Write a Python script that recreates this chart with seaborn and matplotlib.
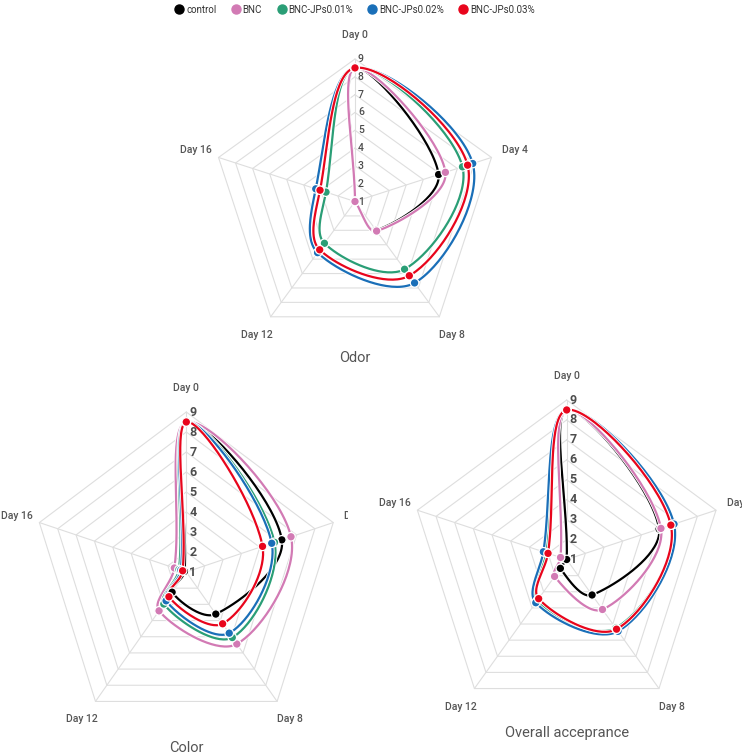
import numpy as np
import pandas as pd
import matplotlib
matplotlib.use("Agg")
import matplotlib.pyplot as plt
import matplotlib.patheffects as pe
from matplotlib.lines import Line2D
from matplotlib.transforms import Bbox, TransformedBbox
import seaborn as sns

sns.set_style("white")
plt.rcParams["font.family"] = ["Roboto", "DejaVu Sans"]

days = ["Day 0", "Day 4", "Day 8", "Day 12", "Day 16"]
groups = ["control", "BNC", "BNC-JPs0.01%", "BNC-JPs0.02%", "BNC-JPs0.03%"]
colors = ["#000000", "#d27ab4", "#2a9e76", "#1a6fb8", "#e8051c"]
levels = [1, 2, 3, 4, 5, 6, 7, 8, 9]

# scores per group, in the order of days
odor_scores = [
    [8.5, 5.9, 3.0, 1.0, 1.0],
    [8.5, 6.3, 3.05, 1.0, 1.0],
    [8.5, 7.3, 5.7, 3.9, 2.7],
    [8.5, 7.9, 6.65, 4.55, 3.3],
    [8.5, 7.6, 6.15, 4.35, 3.05],
]
color_scores = [
    [8.5, 6.2, 3.6, 2.25, 1.1],
    [8.5, 6.7, 5.45, 3.4, 1.65],
    [8.5, 5.8, 5.05, 2.98, 1.4],
    [8.5, 5.65, 4.78, 2.78, 1.3],
    [8.5, 5.15, 4.2, 2.53, 1.2],
]
overall_scores = [
    [8.5, 5.95, 3.2, 1.55, 1.0],
    [8.5, 6.05, 4.1, 2.05, 1.33],
    [8.5, 6.62, 5.25, 3.55, 2.1],
    [8.5, 6.75, 5.45, 3.68, 2.25],
    [8.5, 6.58, 5.32, 3.43, 2.0],
]

W, H = 742, 755
angles = np.arange(len(days)) * 2 * np.pi / len(days)


def smooth_loop(vals, smooth=0.35, n=40):
    # closed bezier smoothing of the polygon, done in cartesian space
    s = (np.asarray(vals) - 1) / 8
    pts = np.column_stack([s * np.sin(angles), s * np.cos(angles)])
    m = len(pts)
    c0, c1 = [], []
    for i in range(m):
        p, prev, nxt = pts[i], pts[i - 1], pts[(i + 1) % m]
        v = (nxt - prev) * smooth
        d0 = np.hypot(*(p - prev))
        d1 = np.hypot(*(p - nxt))
        tot = d0 + d1
        if tot:
            d0, d1 = d0 / tot, d1 / tot
        c0.append(p - v * d0)
        c1.append(p + v * d1)
    t = np.linspace(0, 1, n)[:, None]
    segs = []
    for i in range(m):
        a, b, c, d = pts[i], c1[i], c0[(i + 1) % m], pts[(i + 1) % m]
        seg = (1 - t) ** 3 * a + 3 * (1 - t) ** 2 * t * b + 3 * (1 - t) * t ** 2 * c + t ** 3 * d
        segs.append(seg)
    xy = np.vstack(segs)
    return np.arctan2(xy[:, 0], xy[:, 1]), 1 + 8 * np.hypot(xy[:, 0], xy[:, 1])


def radar(fig, cx, cy, rx, ry, scores, title, title_y, tick_size, tick_weight, clip_right=None):
    ax = fig.add_axes([(cx - rx) / W, 1 - (cy + ry) / H, 2 * rx / W, 2 * ry / H], projection="polar")
    ax.set_aspect("auto")
    ax.set_theta_zero_location("N")
    ax.set_theta_direction(-1)
    ax.set_ylim(1, 9)
    ax.set_xticks([])
    ax.set_yticks([])
    ax.grid(False)
    ax.spines["polar"].set_visible(False)
    ax.patch.set_alpha(0)

    ring = np.append(angles, angles[0])
    for k in levels[1:]:
        ax.plot(ring, [k] * len(ring), color="#dedede", lw=0.8, zorder=1, clip_on=False)
    for a in angles:
        ax.plot([a, a], [1, 9], color="#dedede", lw=0.8, zorder=1, clip_on=False)

    curves = []
    points = []
    for g, vals in zip(groups, scores):
        th, r = smooth_loop(vals)
        curves.append(pd.DataFrame({"theta": th, "score": r, "group": g}))
        points.append(pd.DataFrame({"theta": angles, "score": vals, "group": g}))
    curves = pd.concat(curves, ignore_index=True)
    points = pd.concat(points, ignore_index=True)

    sns.lineplot(data=curves, x="theta", y="score", hue="group", palette=colors,
                 hue_order=groups, sort=False, estimator=None, lw=1.6, legend=False, ax=ax,
                 clip_on=False, zorder=3,
                 path_effects=[pe.Stroke(linewidth=2.8, foreground="white"), pe.Normal()])
    sns.scatterplot(data=points, x="theta", y="score", hue="group", palette=colors,
                    hue_order=groups, s=38, edgecolor="white", linewidth=0.9, legend=False,
                    ax=ax, clip_on=False, zorder=4)
    ax.set_xlabel("")
    ax.set_ylabel("")

    for k in levels:
        ax.annotate(str(k), xy=(0, k), xytext=(3, 0), textcoords="offset pixels",
                    ha="left", va="center", fontsize=tick_size, fontweight=tick_weight,
                    color="#4d4d4d", annotation_clip=False, zorder=5)

    offs = [((0, 24), "center"), ((11, 7), "left"), ((0, -18), "left"),
            ((2, -18), "right"), ((-7, 7), "right")]
    for a, name, (off, ha) in zip(angles, days, offs):
        t = ax.annotate(name, xy=(a, 9), xytext=off, textcoords="offset pixels",
                        ha=ha, va="center", fontsize=7.5, fontweight="medium",
                        color="#555555", annotation_clip=False)
        if clip_right is not None and name == "Day 4":
            t.set_clip_box(TransformedBbox(Bbox.from_extents(0, 0, clip_right / W, 1),
                                           fig.transFigure))
            t.set_clip_on(True)

    fig.text(cx / W, 1 - title_y / H, title, ha="center", va="center",
             fontsize=10.5, color="#555555")
    return ax


fig = plt.figure(figsize=(W / 100, H / 100), dpi=100)

radar(fig, 355, 201.5, 143.5, 142.5, odor_scores, "Odor", 358, 7.5, "medium")
radar(fig, 186.3, 572, 154.5, 160, color_scores, "Color", 748, 9, "bold", clip_right=348)
radar(fig, 566.7, 559.5, 157, 159.5, overall_scores, "Overall acceprance", 733, 9, "bold")

handles = [Line2D([], [], ls="", marker="o", ms=6.5, color=c) for c in colors]
fig.legend(handles, groups, loc="upper center", bbox_to_anchor=(0.478, 1.0), ncol=5,
           frameon=False, fontsize=7, handletextpad=0.2, columnspacing=1.5,
           handlelength=1.0, borderaxespad=0.1, labelcolor="#333333")

fig.savefig("out.png", dpi=100)
